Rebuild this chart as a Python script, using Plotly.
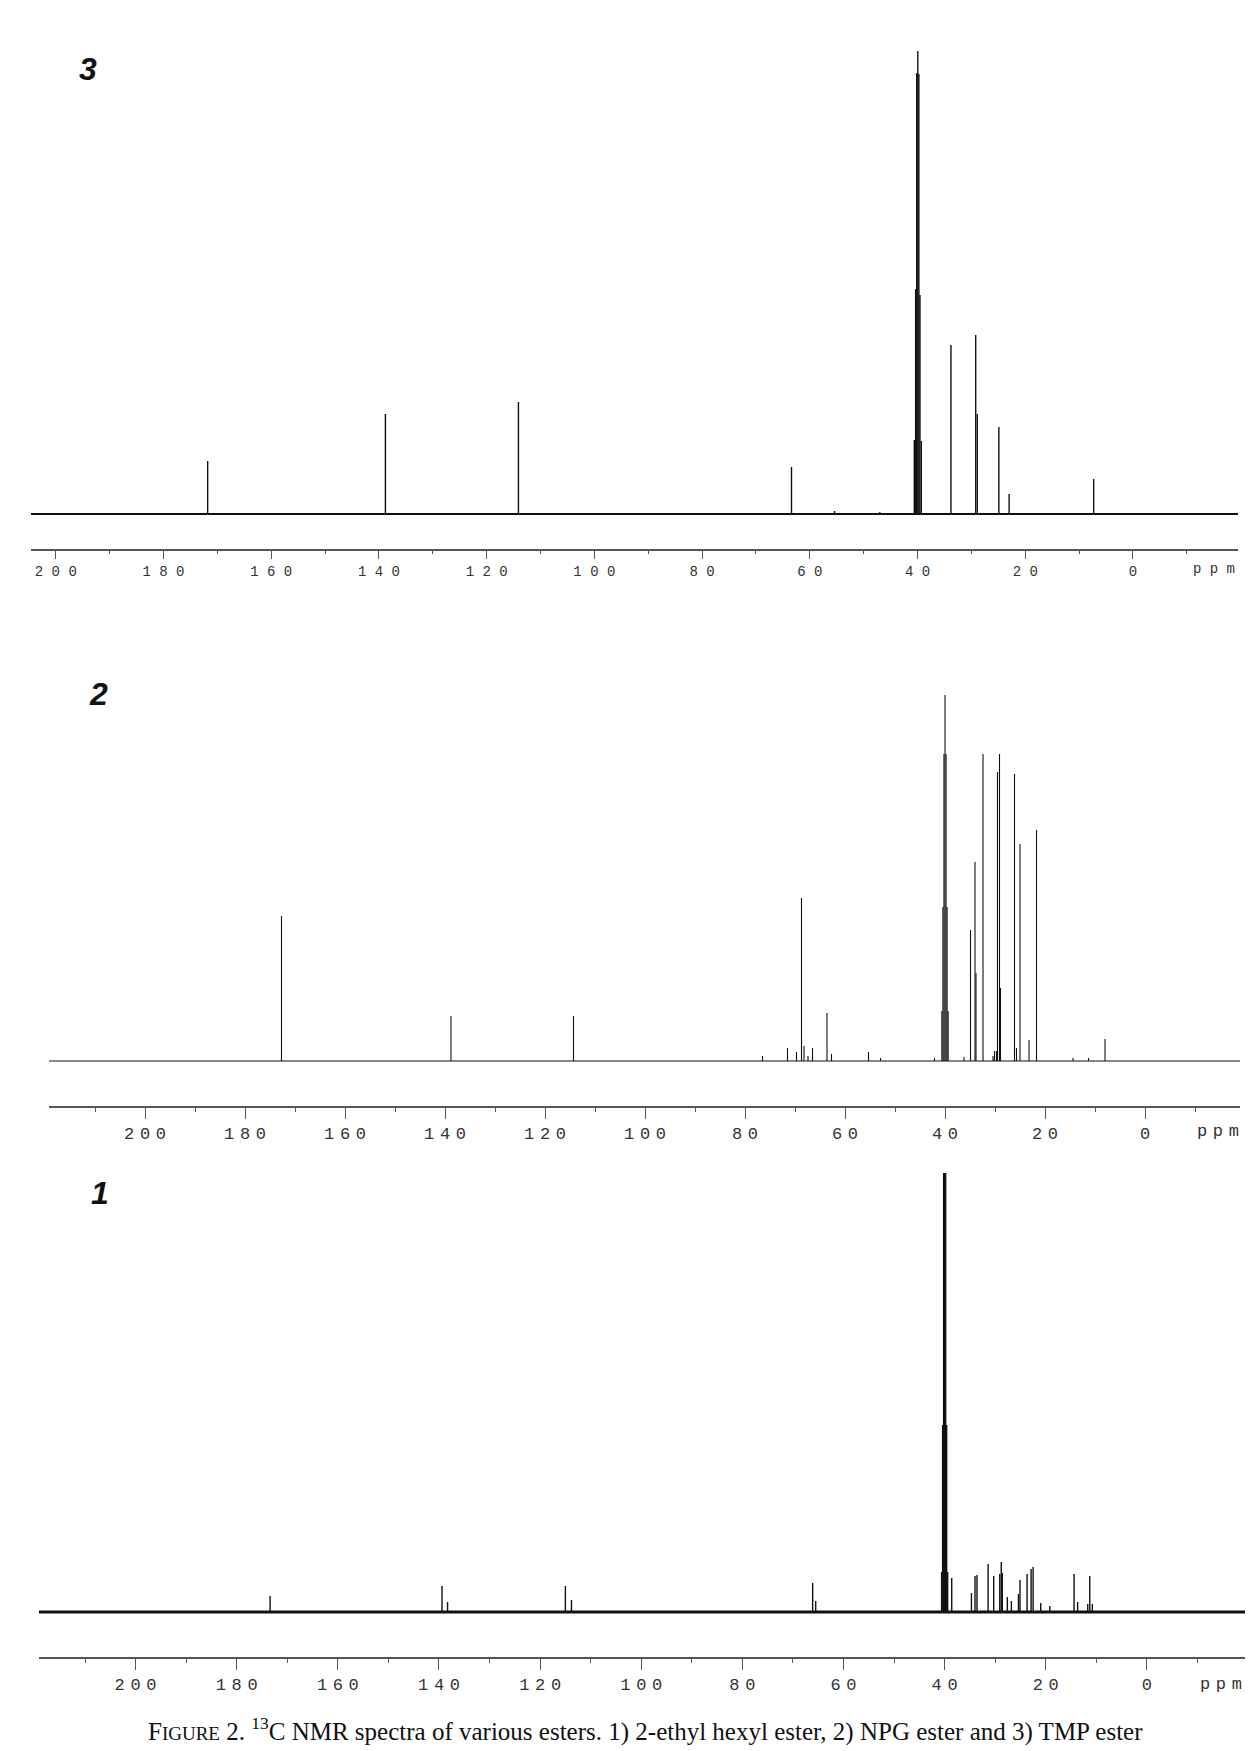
"""
nmr_esters.py
Stacked 13C NMR spectra of three esters, drawn as stick spectra with plotly.
Panels from top to bottom: 3) TMP ester, 2) NPG ester, 1) 2-ethyl hexyl ester
"""
import plotly.graph_objects as go

# 3) TMP ester : chemical shift (ppm) and peak height
tmp_ppm = [171.8, 138.8, 114.1, 63.4, 55.4, 47.0,
           40.6, 40.35, 40.15, 39.95, 39.75, 39.55, 39.3,
           33.8, 29.2, 28.9, 24.9, 23.0, 7.3]
tmp_int = [53, 100, 112, 47, 3, 2,
           74, 225, 441, 463, 440, 219, 73,
           169, 179, 100, 87, 20, 35]

# 2) NPG ester
npg_ppm = [172.7, 138.8, 114.3, 76.5, 71.5, 69.7, 68.7, 68.2, 67.4, 66.5,
           63.6, 62.7, 55.3, 52.9, 42.1,
           40.63, 40.42, 40.21, 40.0, 39.79, 39.58, 39.37,
           36.2, 34.9, 34.0, 33.8, 32.4, 30.4, 30.1, 29.7, 29.5, 29.1, 28.9,
           26.1, 25.7, 25.0, 23.2, 21.7, 14.4, 11.3, 8.0]
npg_int = [145, 45, 45, 5, 13, 9, 163, 15, 5, 13,
           48, 7, 9, 3, 3,
           50, 154, 307, 366, 307, 154, 50,
           4, 131, 199, 88, 307, 5, 10, 10, 289, 307, 73,
           287, 13, 217, 21, 231, 3, 3, 22]

# 1) 2-ethyl hexyl ester
eh_ppm = [173.4, 139.4, 138.3, 115.0, 113.8, 66.1, 65.5,
          40.6, 40.4, 40.2, 40.0, 39.8, 39.6, 39.4,
          38.6, 34.7, 34.0, 33.6, 31.4, 30.3, 29.1, 28.8, 28.6, 27.6, 26.8,
          25.4, 25.1, 23.7, 22.9, 22.5, 21.0, 19.2, 14.4, 13.7, 11.7, 11.3, 10.8]
eh_int = [16, 26, 10, 26, 12, 29, 11,
          40, 187, 439, 439, 439, 187, 40,
          34, 19, 36, 37, 48, 36, 38, 50, 39, 15, 11,
          18, 32, 38, 43, 45, 9, 6, 38, 10, 8, 36, 8]

panel_names = ['3', '2', '1']
caption = ("F<span style='font-size:19px'>IGURE</span> 2. <sup>13</sup>C NMR spectra of various "
           "esters. 1) 2-ethyl hexyl ester, 2) NPG ester and 3) TMP ester")

W, H = 1253, 1751


def sticks(ppm, inten):
    """turn peak lists into a single stick-spectrum line (None breaks)"""
    xs, ys = [], []
    for p, h in zip(ppm, inten):
        xs += [p, p, None]
        ys += [0, h, None]
    return xs, ys


def label(x, y, text, font):
    """paper annotation centred on a pixel position"""
    return dict(x=x / W, y=1 - y / H, xref='paper', yref='paper', showarrow=False,
                xanchor='center', yanchor='middle', text=text, font=font)


def make_figure():
    # pixel layout of each panel: left/right of axis, ppm at the ends,
    # top of plot area, y of axis line, y of spectrum baseline
    panels = [
        dict(ppm=tmp_ppm, inten=tmp_int, x0=23, x1=1230, left=204.6, right=-19.5,
             top=30, axis=541, base=506, ticklen=8, mticklen=3, fsize=14, gap=' ',
             standoff=0, base_w=2.0, stick_w=1.4, num=(80, 61), ppm_lbl=(1206, 561)),
        dict(ppm=npg_ppm, inten=npg_int, x0=41, x1=1232, left=219.2, right=-19.0,
             top=640, axis=1098, base=1053, ticklen=11, mticklen=4, fsize=17, gap='\u2004',
             standoff=0, base_w=1.2, stick_w=1.1, num=(90, 686), ppm_lbl=(1210, 1123)),
        dict(ppm=eh_ppm, inten=eh_int, x0=31, x1=1237, left=219.1, right=-19.4,
             top=1140, axis=1649, base=1604, ticklen=11, mticklen=4, fsize=17, gap='\u2004',
             standoff=0, base_w=3.2, stick_w=1.4, num=(92, 1185), ppm_lbl=(1213, 1676)),
    ]

    fig = go.Figure()
    annotations = []
    for i, p in enumerate(panels):
        n = '' if i == 0 else str(i + 1)
        xs, ys = sticks(p['ppm'], p['inten'])
        # baseline then peaks
        fig.add_trace(go.Scatter(x=[p['left'], p['right']], y=[0, 0], mode='lines',
                                 line=dict(color='#111111', width=p['base_w']),
                                 xaxis='x' + n, yaxis='y' + n, showlegend=False,
                                 hoverinfo='skip'))
        fig.add_trace(go.Scatter(x=xs, y=ys, mode='lines',
                                 line=dict(color='#111111', width=p['stick_w']),
                                 xaxis='x' + n, yaxis='y' + n, showlegend=False,
                                 hovertemplate='%{x} ppm<extra></extra>'))

        major = [v for v in range(0, 220, 20) if v <= p['left']]
        minor = [v for v in range(-10, 220, 20) if v <= p['left']]
        fig.update_layout(**{
            'xaxis' + n: dict(
                domain=[p['x0'] / W, p['x1'] / W],
                range=[p['left'], p['right']],
                anchor='y' + n,
                showline=True, linecolor='#555555', linewidth=1.5,
                showgrid=False, zeroline=False,
                ticks='outside', ticklen=p['ticklen'], tickwidth=1.3, tickcolor='#555555',
                tickmode='array', tickvals=major,
                ticktext=[p['gap'].join(str(v)) for v in major],
                ticklabelstandoff=p['standoff'],
                tickfont=dict(family='Liberation Mono', size=p['fsize'], color='#333333'),
                minor=dict(tickmode='array', tickvals=minor, ticks='outside',
                           ticklen=p['mticklen'], tickwidth=1.2, tickcolor='#555555'),
            ),
            'yaxis' + n: dict(
                domain=[1 - p['axis'] / H, 1 - p['top'] / H],
                range=[-(p['axis'] - p['base']), p['base'] - p['top']],
                visible=False,
            ),
        })
        annotations.append(label(p['num'][0], p['num'][1],
                                 '<b><i>' + panel_names[i] + '</i></b>',
                                 dict(family='Liberation Sans', size=32, color='#111111')))
        annotations.append(label(p['ppm_lbl'][0], p['ppm_lbl'][1], p['gap'].join('ppm'),
                                 dict(family='Liberation Mono', size=p['fsize'],
                                      color='#333333')))

    annotations.append(label(637, 1721, caption,
                             dict(family='Liberation Serif', size=25, color='#111111')))

    fig.update_layout(width=W, height=H, margin=dict(l=0, r=0, t=0, b=0),
                      paper_bgcolor='white', plot_bgcolor='white',
                      annotations=annotations, showlegend=False)
    return fig


if __name__ == '__main__':
    fig = make_figure()
    fig.write_html("out.html")
